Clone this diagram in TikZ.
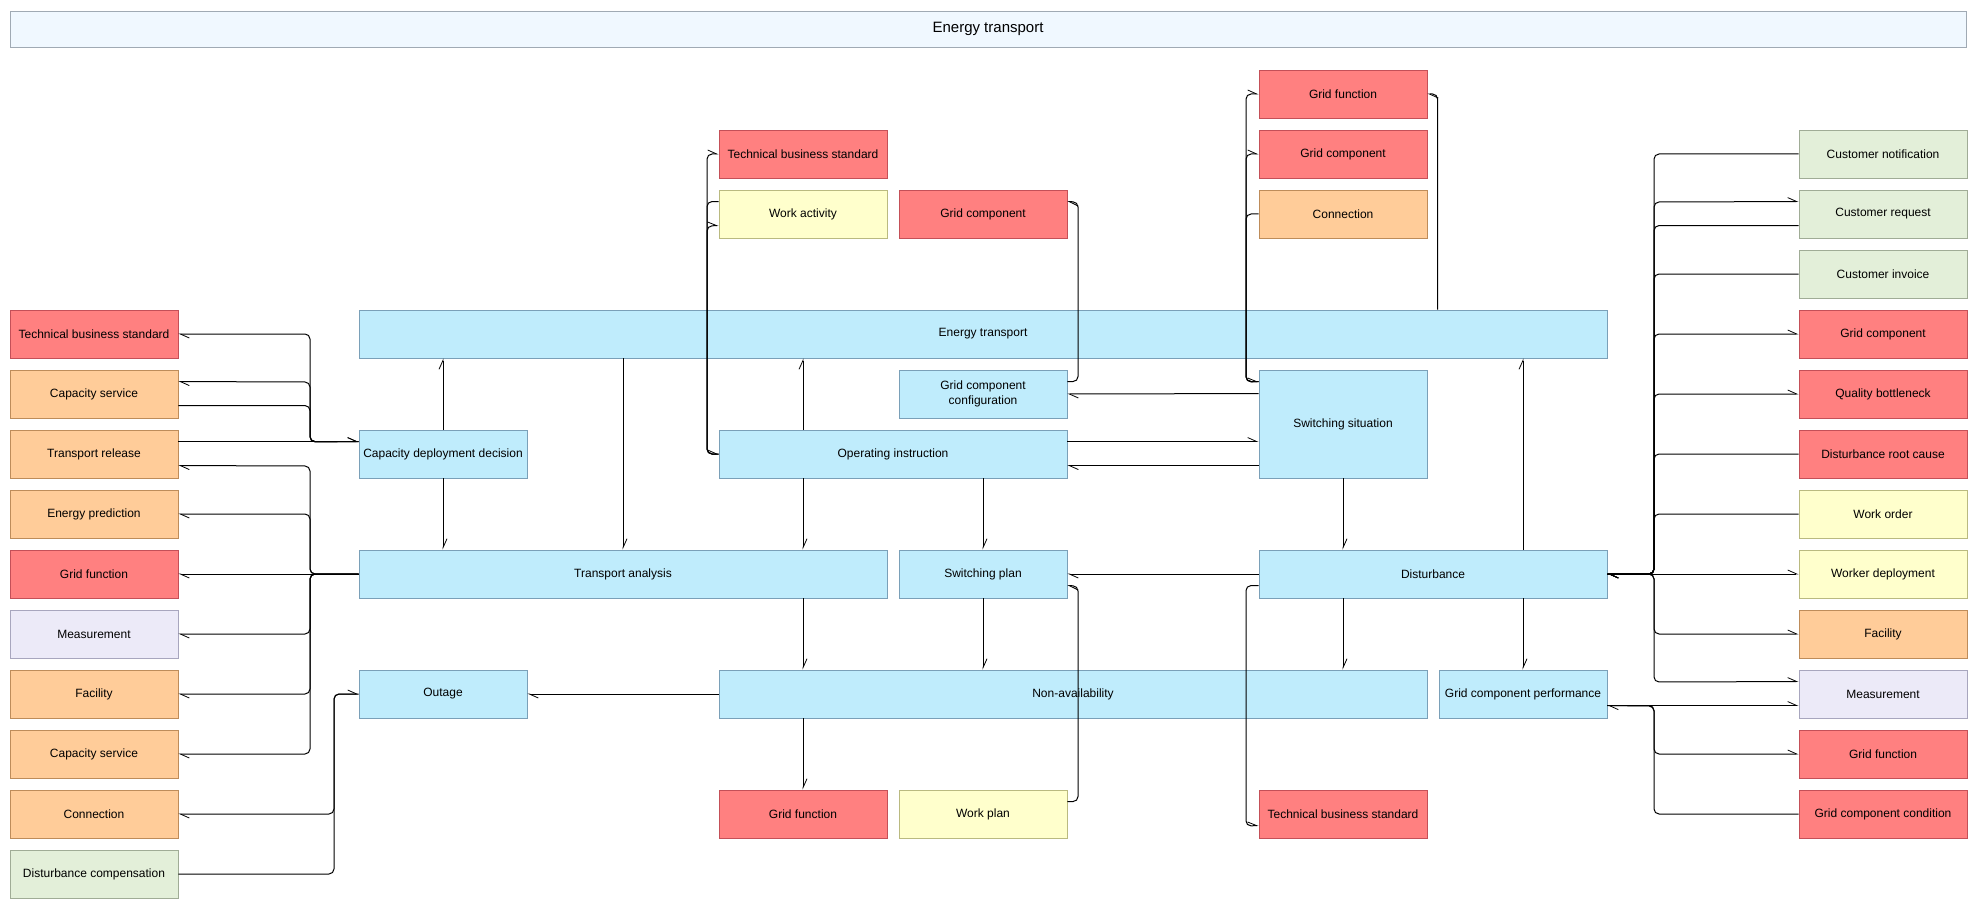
\documentclass[tikz,border=0pt]{standalone}
\usepackage{fontspec}
\setmainfont{Liberation Sans}
\usetikzlibrary{arrows.meta,calc}
\definecolor{bluef}{RGB}{191,236,252}
\definecolor{blued}{RGB}{122,160,184}
\definecolor{redf}{RGB}{255,128,128}
\definecolor{redd}{RGB}{196,80,88}
\definecolor{orangef}{RGB}{255,204,153}
\definecolor{oranged}{RGB}{190,140,90}
\definecolor{yellowf}{RGB}{255,255,204}
\definecolor{yellowd}{RGB}{186,186,128}
\definecolor{greenf}{RGB}{227,239,217}
\definecolor{greend}{RGB}{160,172,150}
\definecolor{lavf}{RGB}{236,234,248}
\definecolor{lavd}{RGB}{168,166,190}
\definecolor{titlef}{RGB}{240,248,255}
\definecolor{titled}{RGB}{160,170,180}
\begin{document}
\begin{tikzpicture}[x=1pt,y=-1pt,
  bx/.style={draw, line width=0.9pt, inner sep=1pt, minimum width=168pt, minimum height=48pt,
    align=center, font=\fontsize{12}{14.5}\selectfont},
  bluebox/.style={bx, fill=bluef, draw=blued},
  redbox/.style={bx, fill=redf, draw=redd},
  orangebox/.style={bx, fill=orangef, draw=oranged},
  yellowbox/.style={bx, fill=yellowf, draw=yellowd},
  greenbox/.style={bx, fill=greenf, draw=greend},
  lavbox/.style={bx, fill=lavf, draw=lavd},
  con/.style={draw=black, line width=1pt, rounded corners=5pt,
    -{Straight Barb[harpoon, length=9pt, width=8pt, line width=0.8pt]}}]
\useasboundingbox (0,0) rectangle (1977,909);
% title
\node[bx, fill=titlef, draw=titled, minimum width=1956pt, minimum height=36pt,
  font=\fontsize{15}{18}\selectfont] (title) at (988,29) {Energy transport};
% left column
\node[redbox] (L1) at (94,334) {Technical business standard};
\node[orangebox] (L2) at (94,394) {Capacity service};
\node[orangebox] (L3) at (94,454) {Transport release};
\node[orangebox] (L4) at (94,514) {Energy prediction};
\node[redbox] (L5) at (94,574) {Grid function};
\node[lavbox] (L6) at (94,634) {Measurement};
\node[orangebox] (L7) at (94,694) {Facility};
\node[orangebox] (L8) at (94,754) {Capacity service};
\node[orangebox] (L9) at (94,814) {Connection};
\node[greenbox] (L10) at (94,874) {Disturbance compensation};
% middle
\node[bluebox, minimum width=1248pt] (ET) at (983,334) {Energy transport};
\node[bluebox] (CDD) at (443,454) {Capacity deployment decision};
\node[bluebox, minimum width=528pt] (TA) at (623,574) {Transport analysis};
\node[bluebox] (OUT) at (443,694) {Outage};
\node[redbox] (T1) at (803,154) {Technical business standard};
\node[yellowbox] (WA) at (803,214) {Work activity};
\node[redbox] (G1) at (983,214) {Grid component};
\node[bluebox] (GCC) at (983,394) {Grid component\\configuration};
\node[bluebox, minimum width=348pt] (OI) at (893,454) {Operating instruction};
\node[bluebox] (SP) at (983,574) {Switching plan};
\node[bluebox, minimum width=708pt] (NA) at (1073,694) {Non-availability};
\node[redbox] (GFb) at (803,814) {Grid function};
\node[yellowbox] (WP) at (983,814) {Work plan};
\node[redbox] (GFt) at (1343,94) {Grid function};
\node[redbox] (GCt) at (1343,154) {Grid component};
\node[orangebox] (CONN) at (1343,214) {Connection};
\node[bluebox, minimum height=108pt] (SS) at (1343,424) {Switching situation};
\node[bluebox, minimum width=348pt] (DIST) at (1433,574) {Disturbance};
\node[redbox] (TBSb) at (1343,814) {Technical business standard};
\node[bluebox] (GCP) at (1523,694) {Grid component performance};
% right column
\node[greenbox] (R1) at (1883,154) {Customer notification};
\node[greenbox] (R2) at (1883,214) {Customer request};
\node[greenbox] (R3) at (1883,274) {Customer invoice};
\node[redbox] (R4) at (1883,334) {Grid component};
\node[redbox] (R5) at (1883,394) {Quality bottleneck};
\node[redbox] (R6) at (1883,454) {Disturbance root cause};
\node[yellowbox] (R7) at (1883,514) {Work order};
\node[yellowbox] (R8) at (1883,574) {Worker deployment};
\node[orangebox] (R9) at (1883,634) {Facility};
\node[lavbox] (R10) at (1883,694) {Measurement};
\node[redbox] (R11) at (1883,754) {Grid function};
\node[redbox] (R12) at (1883,814) {Grid component condition};
% ---------- connectors ----------
% left, capacity deployment decision
\draw[con] ($(CDD.north west)+(0,12)$) -| (310,334) -- (L1.east);
\draw[con] ($(CDD.north west)+(0,12)$) -| (310,382) -- ($(L2.north east)+(0,12)$);
\draw[con] ($(L2.north east)+(0,36)$) -| (310,442) -- ($(CDD.north west)+(0,12)$);
\draw[con] ($(L3.north east)+(0,12)$) -- ($(CDD.north west)+(0,12)$);
% left, transport analysis
\draw[con] (TA.west) -| (310,466) -- ($(L3.north east)+(0,36)$);
\draw[con] (TA.west) -| (310,514) -- (L4.east);
\draw[con] (TA.west) -- (L5.east);
\draw[con] (TA.west) -| (310,634) -- (L6.east);
\draw[con] (TA.west) -| (310,694) -- (L7.east);
\draw[con] (TA.west) -| (310,754) -- (L8.east);
% outage
\draw[con] (OUT.west) -| (334,814) -- (L9.east);
\draw[con] (L10.east) -| (334,694) -- (OUT.west);
\draw[con] (NA.west) -- (OUT.east);
% verticals
\draw[con] (CDD.north) -- (ET.south -| CDD.north);
\draw[con] (CDD.south) -- (TA.north -| CDD.south);
\draw[con] (ET.south -| TA.north) -- (TA.north);
\draw[con] (OI.north -| GFb.north) -- (ET.south -| GFb.north);
\draw[con] (OI.south -| GFb.north) -- (TA.north -| GFb.north);
\draw[con] (TA.south -| GFb.north) -- (NA.north -| GFb.north);
\draw[con] (NA.south -| GFb.north) -- (GFb.north);
\draw[con] (OI.south -| SP.north) -- (SP.north);
\draw[con] (SP.south) -- (NA.north -| SP.south);
\draw[con] (SS.south) -- (DIST.north -| SS.south);
\draw[con] (DIST.south -| SS.south) -- (NA.north -| SS.south);
\draw[con] (DIST.north -| GCP.north) -- (ET.south -| GCP.north);
\draw[con] (DIST.south -| GCP.north) -- (GCP.north);
% switching plan
\draw[con] (DIST.west) -- (SP.east);
\draw[con] ($(WP.north east)+(0,12)$) -| (1078,586) -- ($(SP.north east)+(0,36)$);
\draw[con] ($(DIST.north west)+(0,36)$) -| (1246,826) -- ($(TBSb.north west)+(0,36)$);
% operating instruction
\draw[con] (OI.west) -| (707,154) -- (T1.west);
\draw[con] ($(WA.north west)+(0,12)$) -| (707,454) -- (OI.west);
\draw[con] (OI.west) -| (707,226) -- ($(WA.north west)+(0,36)$);
\draw[con] ($(GCC.north east)+(0,12)$) -| (1078,202) -- ($(G1.north east)+(0,12)$);
\draw[con] ($(SS.north west)+(0,24)$) -- (GCC.east);
\draw[con] ($(OI.north east)+(0,12)$) -- ($(SS.north west)+(0,72)$);
\draw[con] ($(SS.north west)+(0,96)$) -- ($(OI.north east)+(0,36)$);
% switching situation
\draw[con] ($(SS.north west)+(0,12)$) -| (1246,94) -- (GFt.west);
\draw[con] ($(SS.north west)+(0,12)$) -| (1246,154) -- (GCt.west);
\draw[con] (CONN.west) -| (1246,382) -- ($(SS.north west)+(0,12)$);
\draw[con] ($(ET.north west)+(1079,0)$) |- (GFt.east);
% right side, disturbance
\draw[con] (R1.west) -| (1654,574) -- (DIST.east);
\draw[con] (DIST.east) -| (1654,202) -- ($(R2.north west)+(0,12)$);
\draw[con] ($(R2.north west)+(0,36)$) -| (1654,574) -- (DIST.east);
\draw[con] (R3.west) -| (1654,574) -- (DIST.east);
\draw[con] (DIST.east) -| (1654,334) -- (R4.west);
\draw[con] (DIST.east) -| (1654,394) -- (R5.west);
\draw[con] (R6.west) -| (1654,574) -- (DIST.east);
\draw[con] (R7.west) -| (1654,574) -- (DIST.east);
\draw[con] (DIST.east) -- (R8.west);
\draw[con] (DIST.east) -| (1654,634) -- (R9.west);
\draw[con] (DIST.east) -| (1654,682) -- ($(R10.north west)+(0,12)$);
% right side, grid component performance
\draw[con] ($(GCP.north east)+(0,36)$) -- ($(R10.north west)+(0,36)$);
\draw[con] ($(GCP.north east)+(0,36)$) -| (1654,754) -- (R11.west);
\draw[con] (R12.west) -| (1654,706) -- ($(GCP.north east)+(0,36)$);
\end{tikzpicture}
\end{document}
